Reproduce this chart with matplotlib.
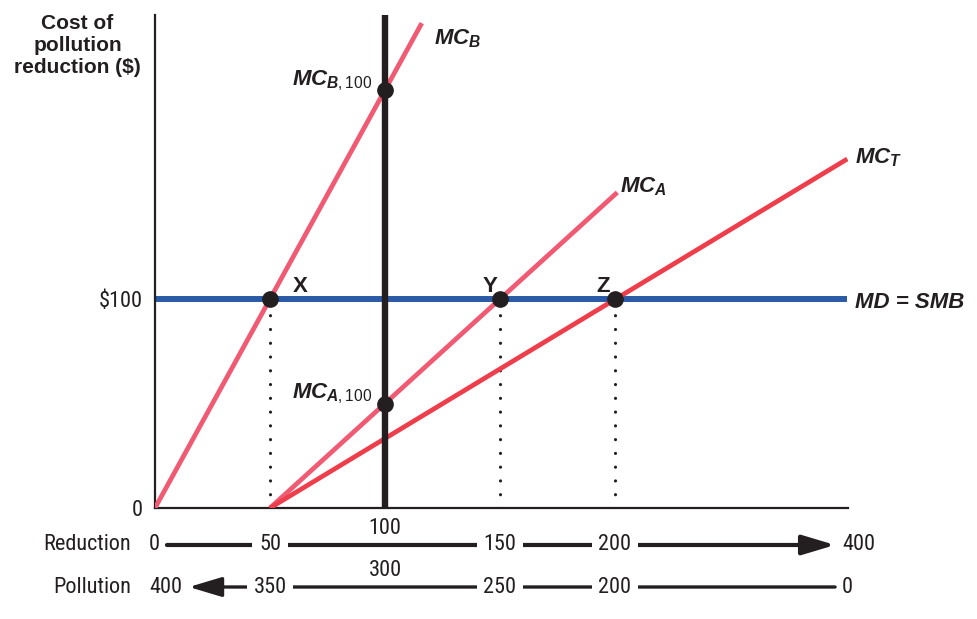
import matplotlib
matplotlib.use("Agg")
import matplotlib.pyplot as plt

# Datos del diagrama
reduction = [0, 50, 100, 150, 200, 400]
pollution = [400, 350, 300, 250, 200, 0]
md_level = 100

mc_b_x, mc_b_y = [0, 116], [0, 232]
mc_a_x, mc_a_y = [50, 201], [0, 151]
mc_t_x, mc_t_y = [50, 301], [0, 167]

eq_x = [50, 150, 200]            # X, Y, Z
eq_names = ["X", "Y", "Z"]
firm_level = 100                 # reduccion de 100 por empresa
mc_at_100 = [50, 200]            # MC_A,100 y MC_B,100

pink = "#f05a72"
red = "#ef3e4b"
blue = "#2b5ba7"
black = "#231f20"

plt.rcParams["font.family"] = ["Roboto Condensed", "DejaVu Sans"]
plt.rcParams["mathtext.fontset"] = "custom"
plt.rcParams["mathtext.it"] = "Liberation Sans:italic:bold"
plt.rcParams["mathtext.rm"] = "Liberation Sans"
plt.rcParams["mathtext.bf"] = "Liberation Sans:bold"

W, H = 978, 619
fig = plt.figure(figsize=(W / 100, H / 100), dpi=100)
ax = fig.add_axes([155 / W, 111 / H, 693 / W, 493 / H])
ax.set_xlim(0, 693 / 2.3)
ax.set_ylim(0, 493 / 2.09)

for s in ["top", "right"]:
    ax.spines[s].set_visible(False)
for s in ["left", "bottom"]:
    ax.spines[s].set_linewidth(1.6)
    ax.spines[s].set_color(black)
ax.set_xticks([])
ax.set_yticks([0, md_level], ["0", "$100"], fontsize=16, color=black)
ax.tick_params(axis="y", length=0, pad=9)

# lineas
ax.plot(mc_b_x, mc_b_y, color=pink, lw=3.4, solid_capstyle="butt", zorder=3)
ax.plot(mc_a_x, mc_a_y, color=pink, lw=3.4, solid_capstyle="butt", zorder=3)
ax.plot(mc_t_x, mc_t_y, color=red, lw=3.4, solid_capstyle="butt", zorder=3)
ax.axhline(md_level, xmax=mc_t_x[-1] / ax.get_xlim()[1], color=blue, lw=4.3,
           solid_capstyle="butt", zorder=2)
ax.axvline(firm_level, color=black, lw=4.6, solid_capstyle="butt", zorder=4)
for x in eq_x:
    ax.plot([x, x], [0, md_level], color=black, lw=2.3,
            linestyle=(0, (0.01, 4.3)), dash_capstyle="round", zorder=1)

ax.plot(eq_x, [md_level] * 3, "o", color=black, ms=11, zorder=6)
ax.plot([firm_level] * 2, mc_at_100, "o", color=black, ms=11, zorder=6)

lab = dict(fontsize=16, color=black, va="baseline")
ax.text(121.3, 222, r"$MC_B$", ha="left", **lab)
ax.text(202.2, 151, r"$MC_A$", ha="left", **lab)
ax.text(304.3, 165, r"$MC_T$", ha="left", **lab)
ax.text(304.3, 95.7, "MD = SMB", ha="left", family="Liberation Sans",
        weight="bold", style="italic", **lab)
ax.text(94.3, 202, r"$MC_{B,\mathrm{100}}$", ha="right", **lab)
ax.text(94.3, 52.6, r"$MC_{A,\mathrm{100}}$", ha="right", **lab)
for x, name, dx in zip(eq_x, eq_names, [13, -4.4, -5.2]):
    ax.text(x + dx, md_level + 3.3, name, ha="center", family="Liberation Sans",
            weight="bold", **lab)

fig.text(77.5 / W, 1 - 14 / H, "Cost of\npollution\nreduction ($)", ha="center",
         va="top", fontsize=15, family="Liberation Sans", weight="bold",
         linespacing=1.2, color=black)

# ejes inferiores: reduccion y contaminacion
def xpos(r):
    return r if r <= 200 else 300

rows = [(reduction, -17.7, -9.6, "Reduction", "right"),
        (pollution, -37.8, -29.7, "Pollution", "left")]
box = dict(fc="white", ec="none", pad=5)
for values, y, y_top, title, direction in rows:
    ax.text(-10.4, y, title, ha="right", va="center", fontsize=16, color=black,
            clip_on=False)
    first = ax.text(-2.6, y, str(values[0]), ha="left", va="center",
                    fontsize=16, color=black, clip_on=False)
    last = ax.text(xpos(reduction[-1]) - 1.3, y, str(values[-1]), ha="left",
                   va="center", fontsize=16, color=black, clip_on=False)
    for r, v in zip(reduction[1:-1], values[1:-1]):
        if r == firm_level:
            ax.text(xpos(r), y_top, str(v), ha="center", va="center",
                    fontsize=16, color=black, clip_on=False)
        else:
            ax.text(xpos(r), y, str(v), ha="center", va="center", fontsize=16,
                    color=black, clip_on=False, bbox=box, zorder=5)
    if direction == "right":
        start, end = first, last
    else:
        start, end = last, first
    ax.annotate("", xy=(0 if direction == "right" else 1, 0.5), xycoords=end,
                xytext=(1 if direction == "right" else 0, 0.5), textcoords=start,
                arrowprops=dict(arrowstyle="-|>,head_length=20,head_width=6",
                                mutation_scale=1, lw=3 if direction == "right" else 2.4,
                                color=black, shrinkA=5, shrinkB=5),
                zorder=2, annotation_clip=False)

fig.savefig("out.png", dpi=100)
